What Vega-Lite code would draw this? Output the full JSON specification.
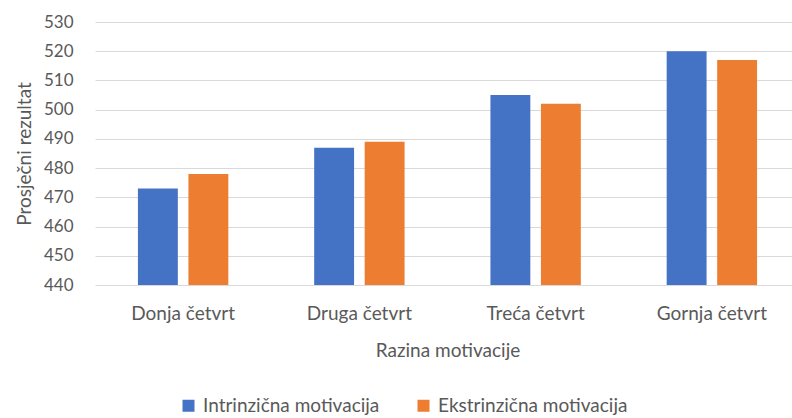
{
  "$schema": "https://vega.github.io/schema/vega-lite/v6.json",
  "width": 697,
  "height": 263,
  "autosize": {"type": "none"},
  "padding": {"left": 95, "top": 22, "right": 0, "bottom": 133},
  "background": "white",
  "config": {
    "view": {"stroke": null},
    "font": "Lato",
    "axis": {"labelColor": "#595959", "titleColor": "#595959", "labelFont": "Lato", "titleFont": "Lato", "titleFontWeight": "normal"},
    "legend": {"labelColor": "#595959", "labelFont": "Lato"}
  },
  "data": {
    "values": [
      {"razina": "Donja četvrt", "vrsta": "Intrinzična motivacija", "rezultat": 473},
      {"razina": "Donja četvrt", "vrsta": "Ekstrinzična motivacija", "rezultat": 478},
      {"razina": "Druga četvrt", "vrsta": "Intrinzična motivacija", "rezultat": 487},
      {"razina": "Druga četvrt", "vrsta": "Ekstrinzična motivacija", "rezultat": 489},
      {"razina": "Treća četvrt", "vrsta": "Intrinzična motivacija", "rezultat": 505},
      {"razina": "Treća četvrt", "vrsta": "Ekstrinzična motivacija", "rezultat": 502},
      {"razina": "Gornja četvrt", "vrsta": "Intrinzična motivacija", "rezultat": 520},
      {"razina": "Gornja četvrt", "vrsta": "Ekstrinzična motivacija", "rezultat": 517}
    ]
  },
  "mark": {"type": "bar"},
  "encoding": {
    "x": {
      "field": "razina", "type": "nominal",
      "sort": ["Donja četvrt", "Druga četvrt", "Treća četvrt", "Gornja četvrt"],
      "scale": {"range": [0, 705], "paddingInner": 0, "paddingOuter": 0},
      "axis": {"title": "Razina motivacije", "labelAngle": 0, "ticks": false, "domain": false, "labelFontSize": 19, "titleFontSize": 19, "labelPadding": 19, "titlePadding": 18}
    },
    "xOffset": {
      "field": "vrsta", "type": "nominal",
      "sort": ["Intrinzična motivacija", "Ekstrinzična motivacija"],
      "scale": {"paddingInner": 0.21, "paddingOuter": 0.85}
    },
    "y": {
      "field": "rezultat", "type": "quantitative",
      "scale": {"domain": [440, 530], "zero": false, "nice": false},
      "axis": {"title": "Prosječni rezultat", "values": [440, 450, 460, 470, 480, 490, 500, 510, 520, 530], "ticks": false, "domain": false, "gridColor": "#D9D9D9", "gridWidth": 1, "labelFontSize": 17, "titleFontSize": 19, "labelPadding": 22, "titlePadding": 9}
    },
    "y2": {"datum": 440},
    "color": {
      "field": "vrsta", "type": "nominal",
      "sort": ["Intrinzična motivacija", "Ekstrinzična motivacija"],
      "scale": {"range": ["#4472C4", "#ED7D31"]},
      "legend": {"title": null, "orient": "none", "direction": "horizontal", "legendX": 84, "legendY": 374, "symbolType": "square", "symbolSize": 144, "symbolStrokeWidth": 0, "symbolOpacity": 1, "labelFontSize": 19, "labelLimit": 0, "columnPadding": 34, "labelOffset": 5}
    }
  }
}
